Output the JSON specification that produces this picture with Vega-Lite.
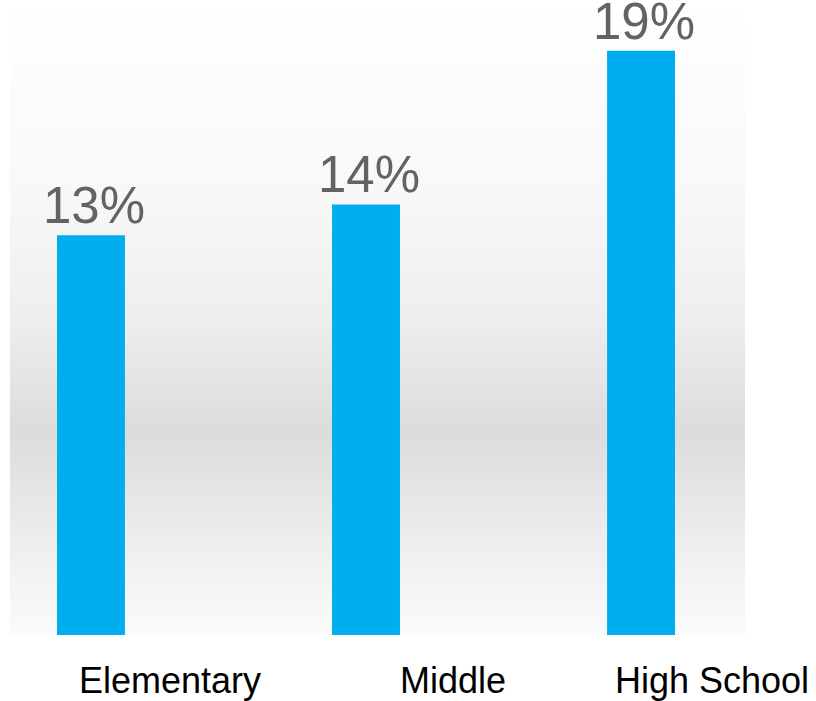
{
  "$schema": "https://vega.github.io/schema/vega-lite/v6.json",
  "width": 735,
  "height": 635,
  "autosize": {"type": "none"},
  "padding": {"left": 10, "top": 0, "right": 71, "bottom": 66},
  "background": "#ffffff",
  "config": {
    "view": {
      "stroke": null,
      "fill": {
        "gradient": "linear",
        "x1": 0, "y1": 0, "x2": 0, "y2": 1,
        "stops": [
          {"offset": 0, "color": "#ffffff"},
          {"offset": 0.3, "color": "#f8f8f8"},
          {"offset": 0.5, "color": "#eeeeee"},
          {"offset": 0.68, "color": "#dcdcdc"},
          {"offset": 0.8, "color": "#e8e8e8"},
          {"offset": 0.92, "color": "#f4f4f4"},
          {"offset": 1, "color": "#fafafa"}
        ]
      }
    }
  },
  "data": {
    "values": [
      {"level": "Elementary", "pct": 13, "label": "13%"},
      {"level": "Middle", "pct": 14, "label": "14%"},
      {"level": "High School", "pct": 19, "label": "19%"}
    ]
  },
  "encoding": {
    "x": {
      "field": "level",
      "type": "nominal",
      "sort": ["Elementary", "Middle", "High School"],
      "scale": {"range": [47, 665], "paddingInner": 0.753, "paddingOuter": 0},
      "axis": {
        "title": null,
        "domain": false,
        "ticks": false,
        "labelAngle": 0,
        "labelFont": "Liberation Sans, Arial",
        "labelFontSize": 36,
        "labelColor": "#000000",
        "labelBaseline": "alphabetic",
        "labelPadding": 57,
        "labelOffset": {"expr": "datum.value === 'Middle' ? 87 : datum.value === 'High School' ? 71 : 79"},
        "labelLimit": 0
      }
    },
    "y": {
      "field": "pct",
      "type": "quantitative",
      "scale": {"domain": [0, 20.65], "nice": false, "zero": true},
      "axis": null
    }
  },
  "layer": [
    {"mark": {"type": "bar", "color": "#00aeef"}},
    {
      "mark": {
        "type": "text",
        "baseline": "alphabetic",
        "dy": -12,
        "dx": 3,
        "font": "Liberation Sans, Arial",
        "fontSize": 51,
        "color": "#636363"
      },
      "encoding": {"text": {"field": "label"}}
    }
  ]
}
